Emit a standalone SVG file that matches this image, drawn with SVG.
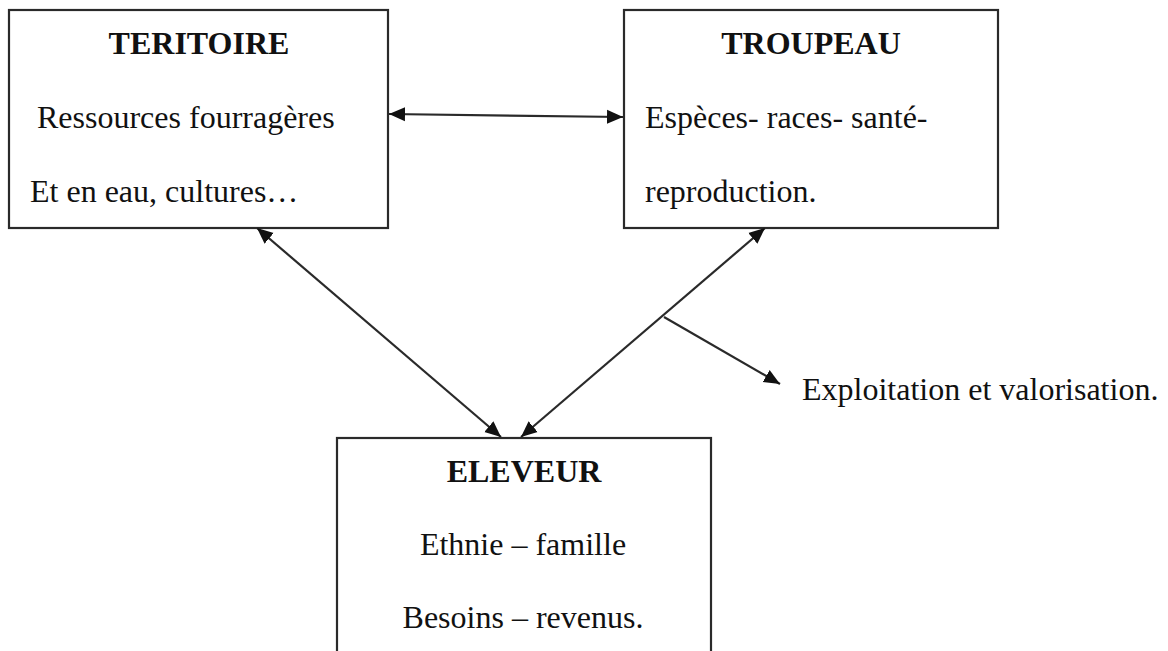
<svg xmlns="http://www.w3.org/2000/svg" width="1168" height="651" viewBox="0 0 1168 651">
<style>
.box{fill:#fff;stroke:#2a2a2a;stroke-width:2.2}
.t{font-family:"Liberation Serif","Times New Roman",serif;font-size:32px;fill:#111}
.h{font-weight:bold;text-anchor:middle}
.c{text-anchor:middle}
.ln{stroke:#2a2a2a;stroke-width:2.2;fill:none}
</style>
<defs>
<marker id="ah" markerUnits="userSpaceOnUse" markerWidth="18" markerHeight="16" refX="16" refY="7" orient="auto-start-reverse" viewBox="0 0 18 14">
<path d="M0,0 L16,7 L0,14 Z" fill="#111"/>
</marker>
</defs>
<rect width="1168" height="651" fill="#fff"/>
<g id="teritoire">
<rect class="box" x="9" y="10" width="379" height="218"/>
<text class="t h" x="199" y="54">TERITOIRE</text>
<text class="t" x="37" y="128">Ressources fourragères</text>
<text class="t" x="30" y="202">Et en eau, cultures…</text>
</g>
<g id="troupeau">
<rect class="box" x="624" y="10" width="374" height="218"/>
<text class="t h" x="811" y="54">TROUPEAU</text>
<text class="t" x="645" y="128">Espèces- races- santé-</text>
<text class="t" x="645" y="202">reproduction.</text>
</g>
<g id="eleveur">
<rect class="box" x="337" y="438" width="374" height="230"/>
<text class="t h" x="524" y="482">ELEVEUR</text>
<text class="t c" x="523" y="555">Ethnie – famille</text>
<text class="t c" x="523" y="628">Besoins – revenus.</text>
</g>
<g id="label-exploitation">
<text class="t" x="802" y="400">Exploitation et valorisation.</text>
</g>
<g id="connectors">
<line class="ln" x1="389" y1="114" x2="623" y2="117" marker-start="url(#ah)" marker-end="url(#ah)"/>
<line class="ln" x1="257" y1="228" x2="501" y2="437" marker-start="url(#ah)" marker-end="url(#ah)"/>
<line class="ln" x1="765" y1="228" x2="521" y2="437" marker-start="url(#ah)" marker-end="url(#ah)"/>
<line class="ln" x1="664" y1="317" x2="780" y2="384" marker-end="url(#ah)"/>
</g>
</svg>
